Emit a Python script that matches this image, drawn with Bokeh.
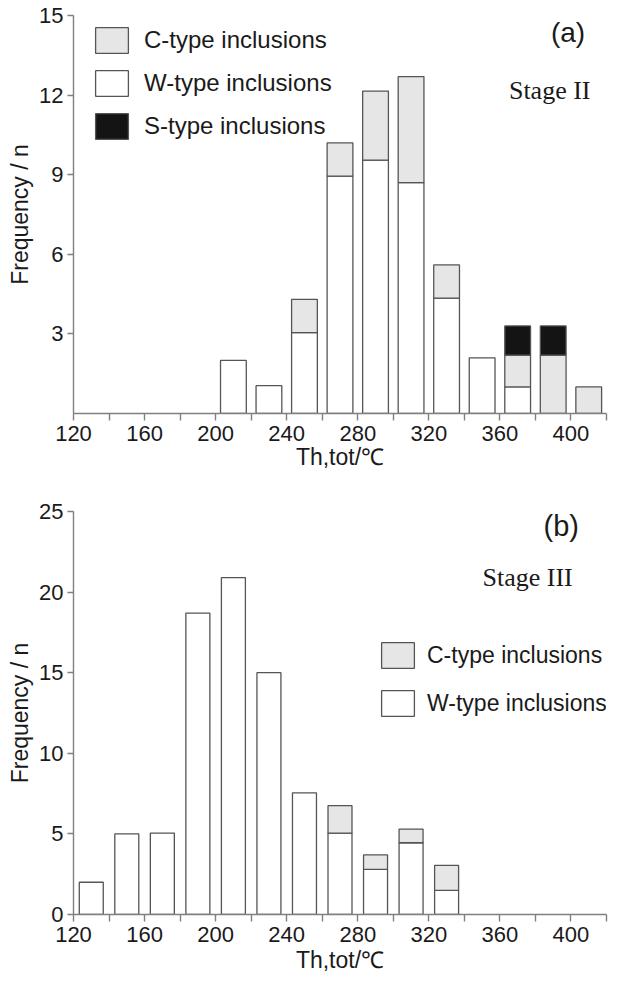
from bokeh.plotting import figure
from bokeh.models import FixedTicker, Legend, LegendItem, Label, Range1d, ColumnDataSource
from bokeh.layouts import column
from bokeh.embed import file_html
from bokeh.resources import INLINE

# ---- data: Stage II (a) ----
bins_a = [210, 230, 250, 270, 290, 310, 330, 350, 370, 390, 410]
w_a = [2.0, 1.05, 3.05, 8.95, 9.55, 8.7, 4.35, 2.1, 1.0, 0.0, 0.0]
c_a = [0.0, 0.0, 1.25, 1.25, 2.6, 4.0, 1.25, 0.0, 1.2, 2.2, 1.0]
s_a = [0.0, 0.0, 0.0, 0.0, 0.0, 0.0, 0.0, 0.0, 1.1, 1.1, 0.0]

# ---- data: Stage III (b) ----
bins_b = [130, 150, 170, 190, 210, 230, 250, 270, 290, 310, 330]
w_b = [2.0, 5.0, 5.05, 18.7, 20.9, 15.0, 7.55, 5.05, 2.8, 4.45, 1.5]
c_b = [0.0, 0.0, 0.0, 0.0, 0.0, 0.0, 0.0, 1.7, 0.9, 0.85, 1.55]

x_ticks = list(range(120, 421, 20))
x_tick_labels = [str(t) if (t - 120) % 40 == 0 and t <= 400 else "" for t in x_ticks]
y_ticks_a = [3, 6, 9, 12, 15]
y_ticks_b = [0, 5, 10, 15, 20, 25]

x_title = "Th,tot/\u2103"
y_title = "Frequency / n"

SANS = "Liberation Sans"
SERIF = "Liberation Serif"
OUT = "#555555"
AX = "#808080"
TXT = "#1a1a1a"
C_FILL = "#e6e6e6"
W_FILL = "#ffffff"
S_FILL = "#141414"


def seg_source(x, bottom, height):
    xs, bs, ts = [], [], []
    for xi, b, h in zip(x, bottom, height):
        if h > 0:
            xs.append(xi)
            bs.append(b)
            ts.append(b + h)
    return ColumnDataSource(dict(x=xs, bottom=bs, top=ts))


def style(p, yticks, xlab_standoff):
    p.outline_line_color = None
    p.xgrid.grid_line_color = None
    p.ygrid.grid_line_color = None
    p.background_fill_color = "white"
    p.border_fill_color = "white"
    p.xaxis.ticker = FixedTicker(ticks=x_ticks)
    p.xaxis.major_label_overrides = {t: l for t, l in zip(x_ticks, x_tick_labels)}
    p.yaxis.ticker = FixedTicker(ticks=yticks)
    for ax in (p.xaxis[0], p.yaxis[0]):
        ax.axis_line_color = AX
        ax.axis_line_width = 1.4
        ax.major_tick_line_color = AX
        ax.major_tick_line_width = 1.4
        ax.minor_tick_line_color = None
        ax.major_tick_in = 0
        ax.major_label_text_font = SANS
        ax.major_label_text_font_size = "22px"
        ax.major_label_text_color = TXT
        ax.axis_label_text_font = SANS
        ax.axis_label_text_font_size = "23px"
        ax.axis_label_text_font_style = "normal"
        ax.axis_label_text_color = TXT
    p.xaxis.major_tick_out = 7
    p.yaxis.major_tick_out = 6
    p.xaxis.major_label_standoff = 5
    p.yaxis.major_label_standoff = 4
    p.xaxis.axis_label_standoff = xlab_standoff
    p.yaxis.axis_label_standoff = 3
    p.xaxis.axis_label = x_title
    p.yaxis.axis_label = y_title


# ---------------- figure (a) ----------------
pa = figure(width=621, height=485, output_backend="svg", toolbar_location=None,
            x_range=Range1d(120, 420), y_range=Range1d(0, 15),
            min_border_left=72, min_border_right=15, min_border_top=15, min_border_bottom=72)
style(pa, y_ticks_a, 0)

zeros_a = [0.0] * len(bins_a)
wc_a = [w + c for w, c in zip(w_a, c_a)]
bw_a = 14.5
rw_a = pa.vbar(x="x", bottom="bottom", top="top", width=bw_a, source=seg_source(bins_a, zeros_a, w_a),
               fill_color=W_FILL, line_color=OUT, line_width=1.3)
rc_a = pa.vbar(x="x", bottom="bottom", top="top", width=bw_a, source=seg_source(bins_a, w_a, c_a),
               fill_color=C_FILL, line_color=OUT, line_width=1.3)
rs_a = pa.vbar(x="x", bottom="bottom", top="top", width=bw_a, source=seg_source(bins_a, wc_a, s_a),
               fill_color=S_FILL, line_color=OUT, line_width=1.3)

leg_a = Legend(items=[LegendItem(label="C-type inclusions", renderers=[rc_a]),
                      LegendItem(label="W-type inclusions", renderers=[rw_a]),
                      LegendItem(label="S-type inclusions", renderers=[rs_a])],
               location=(18, 271), glyph_width=41, glyph_height=32, label_height=32,
               spacing=11, padding=0, margin=0, label_standoff=12,
               label_text_font=SANS, label_text_font_size="24px", label_text_color=TXT,
               border_line_alpha=0, background_fill_alpha=0)
pa.add_layout(leg_a)

pa.add_layout(Label(x=408, y=14.35, text="(a)", text_align="right", text_baseline="alphabetic",
                    text_font=SANS, text_font_size="28px", text_color=TXT))
pa.add_layout(Label(x=411, y=12.16, text="Stage II", text_align="right", text_baseline="alphabetic",
                    text_font=SERIF, text_font_size="26px", text_color=TXT))

# ---------------- figure (b) ----------------
pb = figure(width=621, height=495, output_backend="svg", toolbar_location=None,
            x_range=Range1d(120, 420), y_range=Range1d(0, 25),
            min_border_left=73, min_border_right=8, min_border_top=26, min_border_bottom=66)
style(pb, y_ticks_b, 2)

zeros_b = [0.0] * len(bins_b)
bw_b = 13.5
rw_b = pb.vbar(x="x", bottom="bottom", top="top", width=bw_b, source=seg_source(bins_b, zeros_b, w_b),
               fill_color=W_FILL, line_color=OUT, line_width=1.3)
rc_b = pb.vbar(x="x", bottom="bottom", top="top", width=bw_b, source=seg_source(bins_b, w_b, c_b),
               fill_color=C_FILL, line_color=OUT, line_width=1.3)

leg_b = Legend(items=[LegendItem(label="C-type inclusions", renderers=[rc_b]),
                      LegendItem(label="W-type inclusions", renderers=[rw_b])],
               location=(304, 195), glyph_width=41, glyph_height=32, label_height=32,
               spacing=16, padding=0, margin=0, label_standoff=9,
               label_text_font=SANS, label_text_font_size="23px", label_text_color=TXT,
               border_line_alpha=0, background_fill_alpha=0)
pb.add_layout(leg_b)

pb.add_layout(Label(x=404.5, y=24.1, text="(b)", text_align="right", text_baseline="alphabetic",
                    text_font=SANS, text_font_size="29px", text_color=TXT))
pb.add_layout(Label(x=401, y=20.93, text="Stage III", text_align="right", text_baseline="alphabetic",
                    text_font=SERIF, text_font_size="26px", text_color=TXT))

layout = column(pa, pb, spacing=0)
open("out.html", "w").write(file_html(layout, INLINE))
